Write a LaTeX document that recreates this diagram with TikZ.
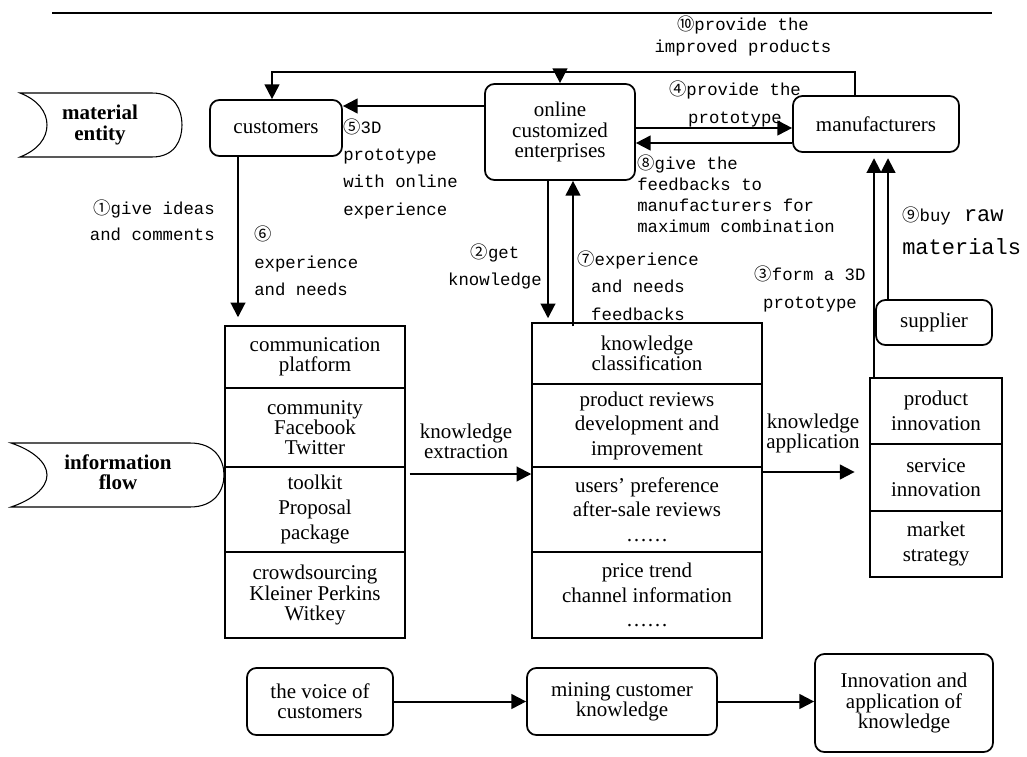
\documentclass[tikz,border=0pt]{standalone}
\usepackage{fontspec}
\setmainfont{Liberation Serif}
\newfontfamily\labelfont{Liberation Mono}
\newfontfamily\cjk{Noto Sans CJK SC}
\newcommand{\cnum}[1]{{\cjk #1}}
\usetikzlibrary{arrows.meta}

\begin{document}
\begin{tikzpicture}[x=0.75pt,y=0.75pt,yscale=-1,xscale=1,
	rbox/.style={draw, line width=1.3pt, rounded corners=7pt, inner sep=2pt, align=center, font=\fontsize{15.75}{15.2}\selectfont},
	cell/.style={draw, line width=1.1pt, inner sep=2pt, align=center, font=\fontsize{15.75}{15.2}\selectfont},
	loose/.style={font=\fontsize{15.75}{18.4}\selectfont},
	arr/.style={line width=1.5pt, -{Triangle[length=11pt,width=11pt]}},
	lbl/.style={inner sep=0pt, font=\labelfont\fontsize{13}{#1}\selectfont},
	lbl/.default=20.5
	]
	\useasboundingbox (0,0) rectangle (1027,756);
	
	%Straight Lines
	\draw [line width=2pt]    (52,13) -- (992,13) ;
	
	%Shape: Data
	\draw [line width=0.8pt]    (20,93) -- (152,93) .. controls (175,93) and (182,110) .. (182,125) .. controls (182,140) and (175,157) .. (152,157) -- (20,157) .. controls (38,150) and (47,138) .. (47,125) .. controls (47,112) and (38,100) .. (20,93) -- cycle ;
	%Shape: Data
	\draw [line width=0.8pt]    (11,443) -- (190,443) .. controls (215,443) and (224,460) .. (224,475) .. controls (224,490) and (215,507) .. (190,507) -- (11,507) .. controls (32,500) and (47,488) .. (47,475) .. controls (47,462) and (32,450) .. (11,443) -- cycle ;
	% Text Node
	\draw (100,125) node (mat) [align=center, font=\bfseries\fontsize{15.75}{15.2}\selectfont] {material\\entity};
	% Text Node
	\draw (118,472) node (info) [align=center, font=\bfseries\fontsize{15.75}{15.2}\selectfont] {information\\flow};
	
	%Rounded Rect
	\draw (276,128) node (cust) [rbox, minimum width=99pt, minimum height=42pt] {customers};
	%Rounded Rect
	\draw (560,132) node (online) [rbox, minimum width=112.5pt, minimum height=72pt] {online\\customized\\enterprises};
	%Rounded Rect
	\draw (876,124) node (manuf) [rbox, minimum width=124.5pt, minimum height=42pt] {manufacturers};
	%Rounded Rect
	\draw (934,322.5) node (supplier) [rbox, minimum width=87pt, minimum height=33.75pt] {supplier};
	
	%Shape: Rectangle
	\draw (315,357) node (c1) [cell, minimum width=135pt, minimum height=46.5pt] {communication\\platform};
	\draw (315,427.5) node (c2) [cell, minimum width=135pt, minimum height=59.25pt] {community\\Facebook\\Twitter};
	\draw (315,509.5) node (c3) [cell, loose, minimum width=135pt, minimum height=63.75pt] {toolkit\\Proposal\\package};
	\draw (315,595) node (c4) [cell, minimum width=135pt, minimum height=64.5pt] {crowdsourcing\\Kleiner Perkins\\Witkey};
	
	%Shape: Rectangle
	\draw (647,353.5) node (k1) [cell, minimum width=172.5pt, minimum height=45.75pt] {knowledge\\classification};
	\draw (647,425.5) node (k2) [cell, loose, minimum width=172.5pt, minimum height=62.25pt] {product reviews\\development and\\improvement};
	\draw (647,509.5) node (k3) [cell, loose, minimum width=172.5pt, minimum height=63.75pt] {users’ preference\\after-sale reviews\\……};
	\draw (647,595) node (k4) [cell, loose, minimum width=172.5pt, minimum height=64.5pt] {price trend\\channel information\\……};
	
	%Shape: Rectangle
	\draw (936,411) node (r1) [cell, loose, minimum width=99pt, minimum height=49.5pt] {product\\innovation};
	\draw (936,477.5) node (r2) [cell, loose, minimum width=99pt, minimum height=50.25pt] {service\\innovation};
	\draw (936,544) node (r3) [cell, loose, minimum width=99pt, minimum height=49.5pt] {market\\strategy};
	
	%Rounded Rect
	\draw (320,701.5) node (voice) [rbox, minimum width=109.5pt, minimum height=50.25pt] {the voice of\\customers};
	%Rounded Rect
	\draw (622,701.5) node (mining) [rbox, minimum width=142.5pt, minimum height=50.25pt] {mining customer\\knowledge};
	%Rounded Rect
	\draw (904,703) node (innov) [rbox, minimum width=133.5pt, minimum height=73.5pt] {Innovation and\\application of\\knowledge};
	
	%Straight Lines
	\coordinate (top10) at (855,72);
	\draw [arr]    (manuf.north -| top10) -- (top10) -| ([xshift=-3pt]cust.north) ;
	\draw [arr]    (online.north |- top10) -- (online.north) ;
	%Straight Lines
	\draw [arr]    (online.west |- 0,106) -- (cust.east |- 0,106) ;
	%Straight Lines
	\draw [arr]    (online.east |- 0,128) -- (manuf.west |- 0,128) ;
	%Straight Lines
	\draw [arr]    (manuf.west |- 0,143) -- (online.east |- 0,143) ;
	%Straight Lines
	\draw [arr, shorten >=6pt]    (cust.south -| 238,0) -- (c1.north -| 238,0) ;
	%Straight Lines
	\draw [arr, shorten >=3pt]    (online.south -| 548,0) -- (k1.north -| 548,0) ;
	%Straight Lines
	\draw [arr, shorten <=-3pt]    (k1.north -| 573,0) -- (online.south -| 573,0) ;
	%Straight Lines
	\draw [arr, shorten <=3pt]    (c3.east |- 0,474) -- (k3.west |- 0,474) ;
	%Straight Lines
	\draw [arr, shorten >=11pt]    (k3.east |- 0,472) -- (r2.west |- 0,472) ;
	%Straight Lines
	\draw [arr, shorten >=4pt]    (r1.north -| 874,0) -- (manuf.south -| 874,0) ;
	%Straight Lines
	\draw [arr, shorten >=4pt]    (supplier.north -| 888,0) -- (manuf.south -| 888,0) ;
	%Straight Lines
	\draw [arr]    (voice.east) -- (mining.west) ;
	%Straight Lines
	\draw [arr]    (mining.east) -- (innov.west |- mining.east) ;
	
	% Text Node
	\draw (743,36) node (lbl10) [lbl=16.5, align=center] {\cnum{⑩}provide the\\improved products};
	% Text Node
	\draw (343,168.5) node (lbl5) [lbl, anchor=west, align=left] {\cnum{⑤}3D\\prototype\\with online\\experience};
	% Text Node
	\draw (735,104) node (lbl4) [lbl, align=center] {\cnum{④}provide the\\prototype};
	% Text Node
	\draw (637,193.5) node (lbl8) [lbl=15.75, anchor=west, align=left] {\cnum{⑧}give the\\feedbacks to\\manufacturers for\\maximum combination};
	% Text Node
	\draw (215,220) node (lbl1) [lbl=19.5, anchor=east, align=right] {\cnum{①}give ideas\\and comments};
	% Text Node
	\draw (254,261) node (lbl6) [lbl, anchor=west, align=left] {\cnum{⑥}\\experience\\and needs};
	% Text Node
	\draw (495,266.5) node (lbl2) [lbl, align=center] {\cnum{②}get\\knowledge};
	% Text Node
	\draw (638,285.5) node (lbl7) [lbl, align=center] {\cnum{⑦}experience\\and needs\\feedbacks};
	% Text Node
	\draw (810,289) node (lbl3) [lbl=21, align=center] {\cnum{③}form a 3D\\prototype};
	% Text Node
	\draw (902,231) node (lbl9) [inner sep=0pt, anchor=west, align=left, font=\labelfont\fontsize{16.5}{25}\selectfont] {{\fontsize{13}{25}\selectfont\cnum{⑨}buy} raw\\materials};
	% Text Node
	\draw (466,441) node (lblex) [align=center, inner sep=0pt, font=\fontsize{15.75}{15.2}\selectfont] {knowledge\\extraction};
	% Text Node
	\draw (813,433.5) node (lblapp) [align=center, inner sep=0pt, font=\fontsize{15.75}{15.2}\selectfont] {knowledge\\application};
	
\end{tikzpicture}
\end{document}
